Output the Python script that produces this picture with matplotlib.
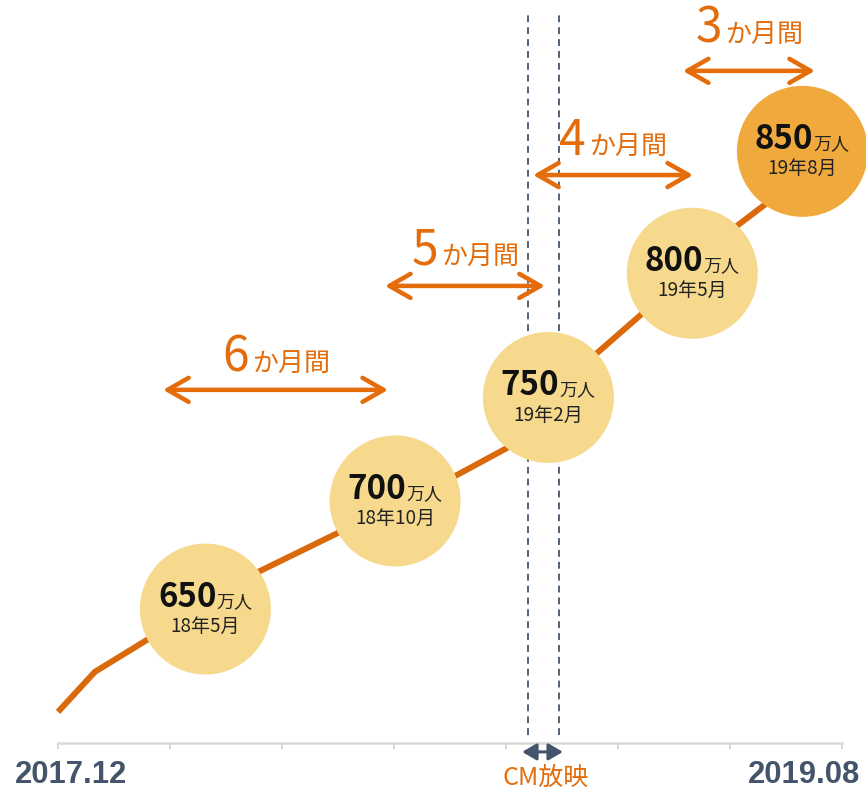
import matplotlib

matplotlib.use("Agg")

import matplotlib.pyplot as plt
import numpy as np
from matplotlib.patches import FancyArrowPatch

plt.rcParams["font.family"] = ["Noto Sans CJK JP", "DejaVu Sans"]

# growth line: months since 2017.12, members (万人)
line_month = [0.0, 0.94, 2.27, 5.10, 7.14, 10.18, 11.45, 13.75, 14.92, 17.35, 18.09, 19.0]
line_value = [608.3, 625.7, 639.6, 669.1, 686.1, 711.3, 723.0, 764.3, 781.7, 820.0, 829.6, 843.9]

# milestone bubbles
bubble_month = [3.76, 8.60, 12.51, 16.18, 18.99]
bubble_value = [653, 700, 745, 799, 852]
bubble_count = ["650", "700", "750", "800", "850"]
bubble_date = ["18年5月", "18年10月", "19年2月", "19年5月", "19年8月"]

# interval arrows between milestones
span_start = [2.68, 8.34, 12.12, 15.94]
span_end = [8.42, 12.42, 16.20, 19.31]
span_level = [748.3, 793.5, 841.7, 887.0]
span_months = ["6", "5", "4", "3"]

# CM airing window
cm_start, cm_end = 11.99, 12.78
axis_start_label, axis_end_label = "2017.12", "2019.08"

ORANGE = "#E46C0A"
LINE = "#DA690B"
PALE = "#F6D98C"
STRONG = "#F0A93D"
SLATE = "#44546A"
GRID = "#D9D9D9"

fig = plt.figure(figsize=(866 / 72, 791 / 72), dpi=72)
ax = fig.add_axes([0, 0, 1, 1])
ax.set_xlim(-1.480, 20.612)
ax.set_ylim(573.9, 917.8)

for side in ["left", "right", "top"]:
    ax.spines[side].set_visible(False)
ax.spines["bottom"].set_position(("data", 594.8))
ax.spines["bottom"].set_bounds(0, 20)
ax.spines["bottom"].set_color(GRID)
ax.spines["bottom"].set_linewidth(2.5)
ax.set_xticks(np.linspace(0, 20, 8))
ax.set_xticklabels([])
ax.set_yticks([])
ax.tick_params(axis="x", direction="out", length=6, width=2, color=GRID)

# CM window
ax.vlines([cm_start, cm_end], 598.3, 911.3, colors=SLATE, linestyles=(0, (3.8, 2.8)),
          linewidth=1.8, zorder=1)
ax.add_patch(FancyArrowPatch((11.84, 590.9), (12.88, 590.9), arrowstyle="<|-|>,head_length=12,head_width=7",
                             mutation_scale=1, color=SLATE, linewidth=3, shrinkA=0, shrinkB=0, zorder=3))
ax.text(12.44, 6 / 791, "CM放映", transform=ax.get_xaxis_transform(), ha="center", va="baseline",
        fontsize=25, color=ORANGE)

ax.plot(line_month, line_value, color=LINE, linewidth=6, solid_capstyle="butt", zorder=2)

colors = [PALE] * (len(bubble_month) - 1) + [STRONG]
ax.scatter(bubble_month, bubble_value, s=131 ** 2, c=colors, linewidths=0, zorder=4)
for m, v, count, date in zip(bubble_month, bubble_value, bubble_count, bubble_date):
    ax.annotate(count, (m, v), xytext=(11, 2), textcoords="offset points", ha="right", va="baseline",
                fontsize=33, fontweight="bold", color="#111111", zorder=5)
    ax.annotate("万人", (m, v), xytext=(11, 2), textcoords="offset points", ha="left", va="baseline",
                fontsize=18, color="#222222", zorder=5)
    ax.annotate(date, (m, v), xytext=(0, -23), textcoords="offset points", ha="center", va="baseline",
                fontsize=19, color="#222222", zorder=5)

label_lift = [18, 21, 20, 28]
for a, b, lvl, n, lift in zip(span_start, span_end, span_level, span_months, label_lift):
    ax.add_patch(FancyArrowPatch((a, lvl), (b, lvl), arrowstyle="<->,head_length=21,head_width=12",
                                 mutation_scale=1, color=ORANGE, linewidth=4.5, shrinkA=0, shrinkB=0,
                                 capstyle="round", joinstyle="round", zorder=6))
    mid = (a + b) / 2
    ax.annotate(n, (mid, lvl), xytext=(-27, lift), textcoords="offset points", ha="right", va="baseline",
                fontsize=48, color=ORANGE, zorder=6)
    ax.annotate("か月間", (mid, lvl), xytext=(-24, lift), textcoords="offset points", ha="left",
                va="baseline", fontsize=26, color=ORANGE, zorder=6)

ax.text(15 / 866, 1 / 791, axis_start_label, transform=ax.transAxes, ha="left", va="bottom",
        fontsize=31, fontweight="bold", color=SLATE, family="Liberation Sans")
ax.text(860 / 866, 1 / 791, axis_end_label, transform=ax.transAxes, ha="right", va="bottom",
        fontsize=31, fontweight="bold", color=SLATE, family="Liberation Sans")

fig.savefig("out.png", dpi=72)
